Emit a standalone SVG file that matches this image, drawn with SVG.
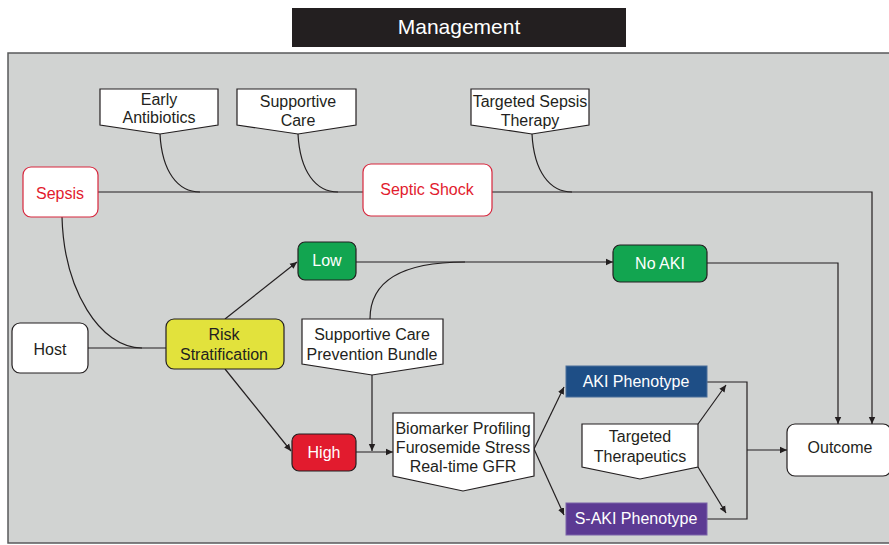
<svg xmlns="http://www.w3.org/2000/svg" width="889" height="545" viewBox="0 0 889 545">
<defs>
<marker id="ah" markerWidth="8" markerHeight="8" refX="7" refY="4" orient="auto" markerUnits="userSpaceOnUse">
<path d="M0,0.8 L7,4 L0,7.2 Z" fill="#231f20"/>
</marker>
<style>
text{font-family:"Liberation Sans",Arial,sans-serif;font-size:16px;text-anchor:middle;fill:#231f20}
.w{fill:#fff}
.red{fill:#e21b2e}
.box{stroke:#231f20;stroke-width:1.2}
.pent{fill:#fff;stroke:#231f20;stroke-width:1.2}
.c path{fill:none;stroke:#231f20;stroke-width:1.2}
.c .a{marker-end:url(#ah)}
</style>
</defs>
<rect x="292" y="8" width="334" height="39" fill="#231f20"/>
<text x="459" y="34" class="w" style="font-size:21px">Management</text>
<rect x="8" y="53" width="890" height="490" fill="#d1d3d2" stroke="#58595b" stroke-width="1.5"/>

<g class="c" id="connectors">
<path d="M98,192 H363"/>
<path d="M160,134 C162,172 178,192 200,192"/>
<path d="M298,134 C300,172 316,192 338,192"/>
<path d="M532,134 C534,172 550,192 572,192"/>
<path class="a" d="M492,192 H872 V424"/>
<path d="M62,217 C64,290 100,348 142,348"/>
<path d="M88,348 H166"/>
<path class="a" d="M225,319 L297,262"/>
<path class="a" d="M225,369 L291,451"/>
<path class="a" d="M356,262 H613"/>
<path d="M370,319 C370,282 400,262 465,262"/>
<path class="a" d="M707,263 H838 V424"/>
<path class="a" d="M372,375 V451"/>
<path class="a" d="M356,452 H393"/>
<path class="a" d="M534,449 L564,387"/>
<path class="a" d="M534,449 L564,515"/>
<path d="M707,382 H747 V519 H707"/>
<path class="a" d="M747,450 H787"/>
<path class="a" d="M698,424 L726,385"/>
<path class="a" d="M698,467 L726,513"/>
</g>

<g id="early-antibiotics">
<path class="pent" d="M100,89 H218 V125 L160,134 L100,125 Z"/>
<text x="159" y="105">Early</text>
<text x="159" y="123">Antibiotics</text>
</g>
<g id="supportive-care">
<path class="pent" d="M237,89 H356 V125 L298,134 L237,125 Z"/>
<text x="298" y="107">Supportive</text>
<text x="298" y="126">Care</text>
</g>
<g id="targeted-sepsis-therapy">
<path class="pent" d="M471,89 H589 V125 L532,134 L471,125 Z"/>
<text x="530" y="107">Targeted Sepsis</text>
<text x="530" y="126">Therapy</text>
</g>
<g id="sepsis">
<rect x="23" y="167" width="75" height="50" rx="8" fill="#fff" stroke="#d7263d" stroke-width="1.2"/>
<text x="60" y="199" class="red">Sepsis</text>
</g>
<g id="septic-shock">
<rect x="363" y="164" width="129" height="52" rx="8" fill="#fff" stroke="#d7263d" stroke-width="1.2"/>
<text x="427" y="195" class="red">Septic Shock</text>
</g>
<g id="host">
<rect class="box" x="12" y="323" width="76" height="50" rx="8" fill="#fff"/>
<text x="50" y="355">Host</text>
</g>
<g id="risk-stratification">
<rect class="box" x="166" y="319" width="118" height="50" rx="8" fill="#e2e23c"/>
<text x="224" y="340">Risk</text>
<text x="224" y="360">Stratification</text>
</g>
<g id="low">
<rect class="box" x="298" y="242" width="58" height="38" rx="7" fill="#12a550"/>
<text x="327" y="266" class="w">Low</text>
</g>
<g id="no-aki">
<rect class="box" x="613" y="245" width="94" height="37" rx="7" fill="#12a550"/>
<text x="660" y="269" class="w">No AKI</text>
</g>
<g id="prevention-bundle">
<path class="pent" d="M302,319 H443 V364 L372,375 L302,364 Z"/>
<text x="372" y="340">Supportive Care</text>
<text x="372" y="360">Prevention Bundle</text>
</g>
<g id="high">
<rect class="box" x="292" y="434" width="64" height="37" rx="7" fill="#e21b2e"/>
<text x="324" y="458" class="w">High</text>
</g>
<g id="biomarker">
<path class="pent" d="M393,413 H534 V476 L463,491 L393,476 Z"/>
<text x="463" y="434">Biomarker Profiling</text>
<text x="463" y="453">Furosemide Stress</text>
<text x="463" y="472">Real-time GFR</text>
</g>
<g id="aki-phenotype">
<rect x="566" y="366" width="141" height="31" fill="#1e4e86" stroke="#4a6f9a" stroke-width="1"/>
<text x="636" y="387" class="w">AKI Phenotype</text>
</g>
<g id="s-aki-phenotype">
<rect x="566" y="503" width="141" height="32" fill="#5c3a93" stroke="#7a62a8" stroke-width="1"/>
<text x="636" y="524" class="w">S-AKI Phenotype</text>
</g>
<g id="targeted-therapeutics">
<path class="pent" d="M582,424 H698 V467 L640,479 L582,467 Z"/>
<text x="640" y="442">Targeted</text>
<text x="640" y="462">Therapeutics</text>
</g>
<g id="outcome">
<rect class="box" x="787" y="424" width="104" height="52" rx="8" fill="#fff"/>
<text x="840" y="453">Outcome</text>
</g>
</svg>
